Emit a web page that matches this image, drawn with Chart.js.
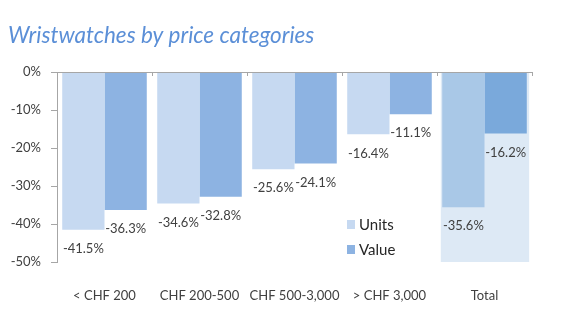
<!DOCTYPE html>
<html lang="en">
<head>
<meta charset="UTF-8">
<title>Wristwatches by price categories</title>
<script src="https://cdn.jsdelivr.net/npm/chart.js"></script>
<style>
    html, body { margin: 0; padding: 0; background: #fff; overflow: hidden; }
    canvas { display: block; }
</style>
</head>
<body>
<canvas id="grafico" width="563" height="325"></canvas>
<script>
    // dados
    const categorias = ['< CHF 200', 'CHF 200-500', 'CHF 500-3,000', '> CHF 3,000', 'Total'];
    const unidades = [-41.5, -34.6, -25.6, -16.4, -35.6];
    const valor = [-36.3, -32.8, -24.1, -11.1, -16.2];
    const marcasY = [0, -10, -20, -30, -40, -50];

    const corUnidades = '#c6d9f1', corUnidadesTotal = '#a9c8e7';
    const corValor = '#8db3e2', corValorTotal = '#7aa9db';
    const corFundoTotal = '#dde9f5';
    const corEixo = '#a6a6a6';
    const corTexto = '#404040';

    Chart.defaults.font.family = 'Lato';

    const ultimo = categorias.length - 1;

    const extras = {
        id: 'extras',
        beforeDatasetsDraw(chart) {
            // faixa de fundo atrás do Total
            const { ctx, scales: { x, y } } = chart;
            const passo = x.getPixelForValue(1) - x.getPixelForValue(0);
            const cx = x.getPixelForValue(ultimo);
            const y0 = y.getPixelForValue(0);
            const y1 = y.getPixelForValue(marcasY[marcasY.length - 1]);
            ctx.save();
            ctx.fillStyle = corFundoTotal;
            ctx.fillRect(cx - passo * 0.46, y0, passo * 0.93, y1 - y0);
            ctx.restore();
        },
        afterDatasetsDraw(chart) {
            const { ctx, chartArea, scales: { x, y } } = chart;
            const y0 = y.getPixelForValue(0);
            const passo = x.getPixelForValue(1) - x.getPixelForValue(0);

            ctx.save();
            // linha do zero com as marcas entre categorias
            ctx.strokeStyle = corEixo;
            ctx.lineWidth = 1;
            ctx.beginPath();
            ctx.moveTo(chartArea.left, y0 + 0.5);
            ctx.lineTo(chartArea.right, y0 + 0.5);
            for (let i = 0; i <= categorias.length; i++) {
                const px = Math.round(x.getPixelForValue(i) - passo / 2) + 0.5;
                ctx.moveTo(px, y0);
                ctx.lineTo(px, y0 + 4);
            }
            ctx.stroke();

            // rótulos de valor abaixo das barras
            ctx.fillStyle = corTexto;
            ctx.font = '13px Lato';
            ctx.textAlign = 'center';
            ctx.textBaseline = 'middle';
            chart.data.datasets.forEach(function (ds, i) {
                chart.getDatasetMeta(i).data.forEach(function (barra, j) {
                    ctx.fillText(ds.data[j].toFixed(1) + '%', barra.x, barra.y + 19);
                });
            });

            // legenda
            const lx = chartArea.left + 290;
            const ly = chartArea.top + 153;
            ctx.font = '15px Lato';
            ctx.textAlign = 'left';
            chart.data.datasets.forEach(function (ds, i) {
                const cy = ly + i * 25;
                ctx.fillStyle = i === 0 ? corUnidades : corValor;
                ctx.fillRect(lx, cy - 5, 8, 9);
                ctx.fillStyle = '#262626';
                ctx.fillText(ds.label, lx + 12, cy);
            });
            ctx.restore();
        }
    };

    new Chart(document.getElementById('grafico'), {
        type: 'bar',
        data: {
            labels: categorias,
            datasets: [{
                label: 'Units',
                data: unidades,
                backgroundColor: (c) => c.dataIndex === ultimo ? corUnidadesTotal : corUnidades
            }, {
                label: 'Value',
                data: valor,
                backgroundColor: (c) => c.dataIndex === ultimo ? corValorTotal : corValor
            }]
        },
        options: {
            responsive: false,
            animation: false,
            categoryPercentage: 0.89,
            barPercentage: 1.0,
            borderWidth: 0,
            layout: { padding: { left: 8, right: 31, bottom: 21 } },
            plugins: {
                legend: { display: false },
                tooltip: { enabled: false },
                title: {
                    display: true,
                    text: 'Wristwatches by price categories',
                    align: 'start',
                    color: '#5b8fd7',
                    font: { size: 22.5, style: 'italic', weight: 'normal' },
                    padding: { top: 22, bottom: 23 }
                }
            },
            scales: {
                x: {
                    afterFit: (s) => { s.height = 42; },
                    grid: { display: false, drawTicks: false },
                    border: { display: false },
                    ticks: { color: corTexto, font: { size: 13 }, padding: 26, maxRotation: 0 }
                },
                y: {
                    min: -50,
                    max: 0,
                    afterBuildTicks: (s) => { s.ticks = marcasY.map(v => ({ value: v })); },
                    afterFit: (s) => { s.width = 49; },
                    grid: { drawOnChartArea: false, drawTicks: true, tickLength: 6, color: corEixo },
                    border: { color: corEixo },
                    ticks: {
                        color: corTexto,
                        font: { size: 13 },
                        padding: 10,
                        callback: (v) => v + '%'
                    }
                }
            }
        },
        plugins: [extras]
    });
</script>
</body>
</html>
